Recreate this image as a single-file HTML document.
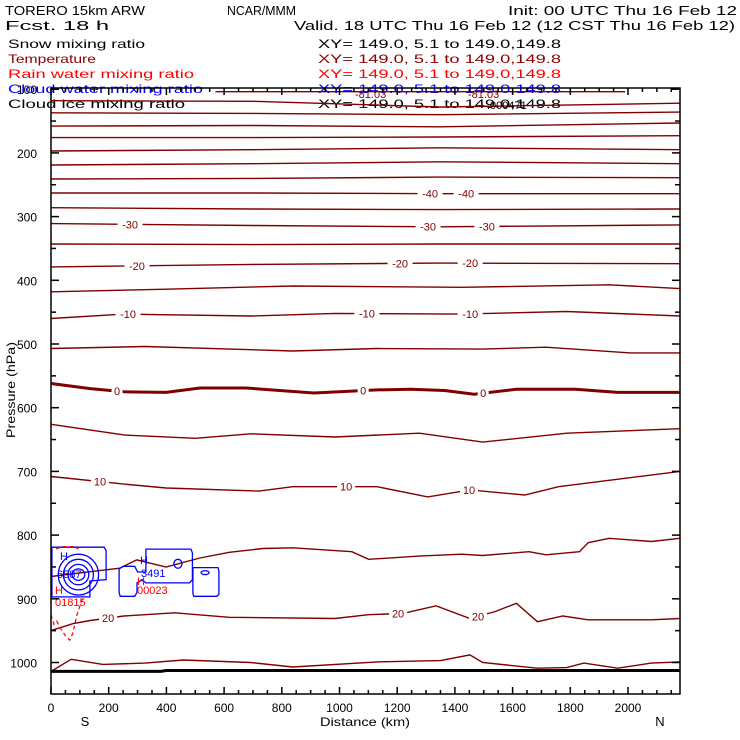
<!DOCTYPE html>
<html><head><meta charset="utf-8"><style>
html,body{margin:0;padding:0;background:#fff;}
svg{display:block;}
text{font-family:"Liberation Sans",sans-serif;}
</style></head><body>
<svg id="chart" width="740" height="740" viewBox="0 0 740 740" xmlns="http://www.w3.org/2000/svg">
<g font-size="13">
<text x="5" y="15" textLength="140" lengthAdjust="spacingAndGlyphs">TORERO  15km ARW</text>
<text x="227" y="15" textLength="69" lengthAdjust="spacingAndGlyphs">NCAR/MMM</text>
<text x="508" y="15" textLength="229" lengthAdjust="spacingAndGlyphs">Init: 00 UTC Thu 16 Feb 12</text>
<text x="5" y="30" textLength="104" lengthAdjust="spacingAndGlyphs">Fcst.   18 h</text>
<text x="294" y="30" textLength="441" lengthAdjust="spacingAndGlyphs">Valid. 18 UTC Thu 16 Feb 12 (12 CST Thu 16 Feb 12)</text>
</g>
<g font-size="12">
<text x="8" y="48" fill="#000" textLength="137" lengthAdjust="spacingAndGlyphs">Snow mixing ratio</text>
<text x="8" y="63" fill="#8b0000" textLength="88" lengthAdjust="spacingAndGlyphs">Temperature</text>
<text x="8" y="78" fill="#ff0000" textLength="186" lengthAdjust="spacingAndGlyphs">Rain water mixing ratio</text>
<text x="8" y="93" fill="#0000ff" textLength="195" lengthAdjust="spacingAndGlyphs">Cloud water mixing ratio</text>
<text x="8" y="108" fill="#000" textLength="177" lengthAdjust="spacingAndGlyphs">Cloud ice mixing ratio</text>
<text x="318" y="48" fill="#000" textLength="243" lengthAdjust="spacingAndGlyphs">XY= 149.0,  5.1 to 149.0,149.8</text>
<text x="318" y="63" fill="#8b0000" textLength="243" lengthAdjust="spacingAndGlyphs">XY= 149.0,  5.1 to 149.0,149.8</text>
<text x="318" y="78" fill="#ff0000" textLength="243" lengthAdjust="spacingAndGlyphs">XY= 149.0,  5.1 to 149.0,149.8</text>
<text x="318" y="93" fill="#0000ff" textLength="243" lengthAdjust="spacingAndGlyphs">XY= 149.0,  5.1 to 149.0,149.8</text>
<text x="318" y="108" fill="#000" textLength="243" lengthAdjust="spacingAndGlyphs">XY= 149.0,  5.1 to 149.0,149.8</text>
</g>
<g id="plot"></g>
</svg>
<script>
const NS="http://www.w3.org/2000/svg";
const xTicksMajor=[0,200,400,600,800,1000,1200,1400,1600,1800,2000];
const yTicksMajor=[100,200,300,400,500,600,700,800,900,1000];
const maxKm=2180;
const pTop=98, pBot=1048;
const upKm=[0,700,1350,2180];
const u1P=[118,119,128,122];
const u2P=[137,138,140,136];
const u3P=[158,157,159,153];
const u4P=[176,176,175,173];
const u5P=[197,195,192,195];
const u6P=[219,217,214,217];
const u7P=[241,240,238,239];
const tm40P=[263,263,264,264];
const tm35P=[286,288,289,288];
const tm30P=[311,314,316,313];
const tm25P=[343,344,343,343];
const tm20P=[379,375,373,374];
const topKm=[570,1990];
const topP=[104,104];
const tm15Km=[0,400,838,1423,1935,2180];
const tm15P=[418,414,409,411,407,413];
const tm10Km=[0,254,693,985,1423,1788,2180];
const tm10P=[460,453,456,452,453,449,456];
const tm5Km=[0,326,838,1130,1496,1715,2008,2180];
const tm5P=[507,504,511,507,508,505,514,514];
const t0Km=[0,136,253,399,516,677,911,1130,1247,1364,1467,1613,1818,1964,2180];
const t0P=[562,570,575,576,569,569,577,572,571,573,579,571,571,576,576];
const t5Km=[0,256,501,692,984,1277,1496,1788,2180];
const t5P=[626,643,648,641,646,640,654,640,633];
const t10Km=[0,253,399,721,838,1130,1306,1452,1642,1759,2180];
const t10P=[708,720,726,731,724,724,740,729,737,724,700];
const t15Km=[0,107,238,297,399,516,618,735,838,1043,1101,1277,1423,1496,1657,1715,1832,1862,1935,2081,2180];
const t15P=[865,859,852,839,850,836,827,821,820,826,838,833,830,832,826,831,826,812,805,810,805];
const t20Km=[0,77,136,253,428,618,984,1101,1218,1335,1452,1540,1613,1686,1774,1862,2081,2180];
const t20P=[950,939,934,927,922,929,931,925,923,911,931,920,907,936,927,933,933,931];
const t25Km=[0,70,180,326,458,692,838,1130,1350,1452,1496,1686,1788,1847,1964,2081,2180];
const t25P=[1014,995,1003,1001,996,1000,1007,999,997,988,1000,1009,1008,1001,1009,1001,999];
const sfcKm=[0,380,400,2180];
const sfcP=[1014,1014,1012.5,1012.5];
const labM40=[1314,1439], labM30=[274,1307,1511], labM20=[298,1210,1453], labM10=[267,1095,1453];
const lab0=[229,1082,1498], lab10=[170,1023,1449], lab20=[198,1203,1480];
const cw1Km=[3,184,191,191,135,135,3];
const cw1P=[819,819,824,870,872,897,897];
const cw2Km=[236,250,290,300,329,329,485,490,490,480,329,315,298,298,290,240,236];
const cw2P=[853,849,849,858,858,822,822,828,870,875,875,870,875,890,896,896,890];
const cw3Km=[492,579,582,582,575,495,492];
const cw3P=[851,851,856,893,896,896,892];
const ringKmR=[70,52,36,22];
const ringPR=[32,24,16,9];
const rainKm=[0,10,20,35,50,65,75,90,105,115];
const rainP=[925,940,935,948,958,965,955,925,905,895];
const rainTopKm=[18,40,80,95];
const rainTopP=[822,818,818,822];

const X=km=>51+km*0.2885;
const Y=p=>662.5+(p-1000)*0.637;
const plot=document.getElementById('plot');
function mk(tag,attrs,parent){const e=document.createElementNS(NS,tag);for(const k in attrs)e.setAttribute(k,attrs[k]);(parent||plot).appendChild(e);return e;}
function interp(km,ks,ps){for(let i=0;i<ks.length-1;i++){if(km>=ks[i]&&km<=ks[i+1]){const f=(km-ks[i])/(ks[i+1]-ks[i]);return ps[i]+f*(ps[i+1]-ps[i]);}}return ps[ps.length-1];}
function pathD(ks,ps,close){let d='';ks.forEach((k,i)=>{d+=(i?'L':'M')+X(k).toFixed(1)+','+Y(ps[i]).toFixed(1);});return d+(close?'Z':'');}

const contours=[
 ['tm70',upKm,u1P,null],['tm65',upKm,u2P,null],['tm60',upKm,u3P,null],['tm55',upKm,u4P,null],
 ['tm50',upKm,u5P,null],['tm45',upKm,u6P,null],['tm42',upKm,u7P,null],['tm40',upKm,tm40P,labM40],
 ['tm35',upKm,tm35P,null],['tm30',upKm,tm30P,labM30],['tm25',upKm,tm25P,null],['tm20',upKm,tm20P,labM20],
 ['tm15',tm15Km,tm15P,null],['tm10',tm10Km,tm10P,labM10],['tm5',tm5Km,tm5P,null],['t0',t0Km,t0P,lab0],
 ['t5',t5Km,t5P,null],['t10',t10Km,t10P,lab10],['t15',t15Km,t15P,null],['t20',t20Km,t20P,lab20],
 ['t25',t25Km,t25P,null],['ttop',topKm,topP,null]];
const labelText={tm40:'-40',tm30:'-30',tm20:'-20',tm10:'-10',t0:'0',t10:'10',t20:'20'};

const gT=mk('g',{});


contours.forEach(c=>{
 const p=mk('path',{d:pathD(c[1],c[2]),fill:'none',stroke:'#800000','stroke-width':c[0]==='t0'?3:1.4},gT);
 
 
 if(c[3]){c[3].forEach(km=>{
  const x=X(km),y=Y(interp(km,c[1],c[2]));const t=labelText[c[0]];const w=t.length*7+4;
  const r=mk('rect',{x:x-w/2,y:y-6,width:w,height:12,fill:'#fff'},gT);
  
  
  const tx=mk('text',{x:x,y:y+4,'text-anchor':'middle','font-size':11,fill:'#800000'},gT);
  
  
  tx.textContent=t;
 });}
});
const sf=mk('path',{d:pathD(sfcKm,sfcP),fill:'none',stroke:'#000','stroke-width':3});



const gC=mk('g',{fill:'none',stroke:'#0000ff','stroke-width':1.3});


[[cw1Km,cw1P],[cw2Km,cw2P],[cw3Km,cw3P]].forEach(a=>{const e=mk('path',{d:pathD(a[0],a[1],true)},gC);
 
 });
ringKmR.forEach((r,i)=>{const e=mk('ellipse',{cx:X(95),cy:Y(862),rx:r*0.2885,ry:ringPR[i]*0.637},gC);
 
 });
[[440,845,14,7],[534,859,14,3]].forEach(a=>{const e=mk('ellipse',{cx:X(a[0]),cy:Y(a[1]),rx:a[2]*0.2885,ry:a[3]*0.637},gC);
 
 });

const gR=mk('g',{fill:'none',stroke:'#ff0000','stroke-width':1.2,'stroke-dasharray':'4,3'});


const r1=mk('path',{d:pathD(rainKm,rainP)},gR);


const r2=mk('path',{d:pathD(rainTopKm,rainTopP)},gR);



const anns=[['H',60,560,'#0000ff'],['6587',57,578,'#0000ff'],['H',55,594,'#ff0000'],['01815',55,606,'#ff0000'],
 ['H',140,564,'#0000ff'],['3491',141,577,'#0000ff'],['H',137,585,'#ff0000'],['00023',137,594,'#ff0000'],
 ['-81.03',355,98,'#800000'],['-81.03',468,98,'#800000'],['.000471',487,109,'#000']];
anns.forEach(a=>{const t=mk('text',{x:a[1],y:a[2],'font-size':11,fill:a[3]});
 
 
 t.textContent=a[0];});

const gA=mk('g',{stroke:'#000','stroke-width':1.5,fill:'none'});


const fr=mk('rect',{x:51,y:88,width:629,height:606},gA);


for(let km=0;km<=maxKm;km+=50){const big=km%200===0;const x=X(km);
 const a=mk('line',{x1:x,x2:x,y1:694,y2:694-(big?7:4)},gA);
 
 
 const b=mk('line',{x1:x,x2:x,y1:88,y2:88+(big?7:4)},gA);
 
 }
for(let p=100;p<=1040;p+=50){const big=p%100===0;const y=Y(p);
 const a=mk('line',{x1:51,x2:51+(big?8:5),y1:y,y2:y},gA);
 
 
 const b=mk('line',{x1:680,x2:680-(big?8:5),y1:y,y2:y},gA);
 
 }
xTicksMajor.forEach(km=>{const t=mk('text',{x:X(km),y:712,'text-anchor':'middle','font-size':12});
 
 
 t.textContent=km;});
yTicksMajor.forEach(p=>{const t=mk('text',{x:37,y:Y(p)+5,'text-anchor':'end','font-size':12});
 
 
 t.textContent=p;});
const xt=mk('text',{x:365,y:726,'text-anchor':'middle','font-size':12,textLength:90,lengthAdjust:'spacingAndGlyphs'});


xt.textContent='Distance (km)';
const sT=mk('text',{x:85,y:726,'text-anchor':'middle','font-size':13});


sT.textContent='S';
const nT=mk('text',{x:660,y:726,'text-anchor':'middle','font-size':13});


nT.textContent='N';
const yt=mk('text',{x:0,y:0,'text-anchor':'middle','font-size':12,transform:'translate(15,390) rotate(-90)',textLength:96,lengthAdjust:'spacingAndGlyphs'});


yt.textContent='Pressure (hPa)';
</script>
</body></html>
